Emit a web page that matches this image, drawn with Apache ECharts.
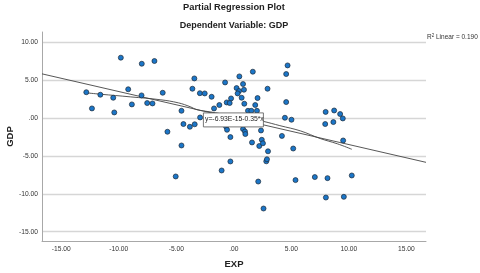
<!DOCTYPE html>
<html><head><meta charset="utf-8">
<script src="https://cdn.jsdelivr.net/npm/echarts@6/dist/echarts.min.js"></script>
<style>html,body{margin:0;padding:0;background:#fff}#c{width:480px;height:273px}</style>
</head><body><div id="c"></div>
<script>
// Partial regression residuals: [EXP residual, GDP residual]
var expResid = [-9.82,-8.00,-6.90,-3.43,-3.60,-2.95,-12.82,-11.60,-10.48,-9.18,-8.02,-6.18,-12.33,-10.39,-8.86,-7.53,-7.07,-4.55,-2.93,-5.77,-4.38,-3.82,-3.40,-4.55,4.67,4.55,0.48,1.65,-0.76,0.80,-2.53,0.24,0.88,0.45,0.33,2.93,-1.93,-0.24,0.68,-0.62,-0.36,-1.26,-1.72,0.91,2.06,1.86,4.55,1.23,1.52,2.01,-0.68,-0.59,0.80,0.97,1.00,2.12,2.36,-0.30,1.58,2.43,2.21,2.53,2.97,4.44,5.01,4.18,5.16,7.98,8.72,9.24,9.47,7.94,8.65,9.50,-0.30,-1.06,2.82,2.88,2.12,5.36,7.04,8.14,8.00,2.58,10.25,9.56,-5.05];
var gdpResid = [7.97,7.17,7.53,5.23,3.87,3.28,3.41,3.08,2.68,3.80,2.99,3.34,1.27,0.74,1.80,1.98,1.93,0.96,0.08,-1.81,-0.79,-1.15,-0.82,-3.62,6.95,5.81,5.50,6.12,4.70,4.49,3.25,3.96,3.74,3.57,3.25,3.87,2.81,2.59,2.68,2.06,1.98,1.72,1.27,1.89,2.64,1.72,2.11,0.96,0.96,0.96,-1.11,-1.55,-1.45,-1.77,-2.11,-0.40,-1.64,-2.51,-3.22,-2.87,-3.69,-3.33,-4.39,0.04,-0.22,-2.36,-4.02,0.81,1.00,0.53,-0.05,-0.79,-0.53,-2.96,-5.73,-6.92,-5.71,-5.44,-8.38,-8.19,-7.79,-7.93,-10.49,-11.94,-7.58,-10.40,-7.71];
// Smooth (loess-like) fit line
var smoothX = [-12.82,-11.6,-9.0,-6.4,-4.8,-3.8,-3.2,-2.0,-0.5,1.0,2.0,2.6,4.0,5.8,7.5,9.0,10.25];
var smoothY = [3.33,3.15,2.8,2.42,2.0,1.5,1.1,0.8,0.4,0.0,-0.3,-0.45,-1.0,-1.7,-2.7,-3.4,-4.12];
// Linear fit
var fitIntercept = -6.93e-15;
var fitSlope = -0.35;
var rSquared = '0.190';
var xTicks = [-15,-10,-5,0,5,10,15];
var yTicks = [-15,-10,-5,0,5,10];

var xMin = -16.67, xMax = 16.7, yMin = -16.23, yMax = 11.36;
var pts = expResid.map(function(x,i){return [x, gdpResid[i]];});
var smooth = smoothX.map(function(x,i){return [x, smoothY[i]];});
var fitLine = [[xMin, fitIntercept + fitSlope*xMin],[xMax, fitIntercept + fitSlope*xMax]];
function fmt(v){ return v === 0 ? '.00' : v.toFixed(2); }

var chart = echarts.init(document.getElementById('c'), null, {renderer:'canvas'});
var F = '"Liberation Sans", Arial, sans-serif';
chart.setOption({
  animation:false,
  backgroundColor:'#fff',
  title:[
    {text:'Partial Regression Plot', left:234, top:3, textAlign:'center', padding:0,
     textStyle:{fontFamily:F, fontSize:9.3, fontWeight:'bold', color:'#222'}},
    {text:'Dependent Variable: GDP', left:234, top:21, textAlign:'center', padding:0,
     textStyle:{fontFamily:F, fontSize:9, fontWeight:'bold', color:'#222'}}
  ],
  grid:{left:42, right:54, top:32, bottom:32, containLabel:false, outerBoundsMode:'none'},
  xAxis:{type:'value', min:xMin, max:xMax,
    name:'EXP', nameLocation:'middle', nameGap:18,
    nameTextStyle:{fontFamily:F, fontSize:9.5, fontWeight:'bold', color:'#222'},
    axisLine:{show:true, onZero:false, lineStyle:{color:'#a8a8a8', width:1}},
    axisTick:{show:false, customValues:xTicks},
    axisLabel:{customValues:xTicks, formatter:fmt, fontFamily:F, fontSize:6.7, color:'#333', margin:5},
    splitLine:{show:false}},
  yAxis:{type:'value', min:yMin, max:yMax,
    name:'GDP', nameLocation:'middle', nameGap:27, nameRotate:90, nameMoveOverlap:false,
    nameTextStyle:{fontFamily:F, fontSize:9.5, fontWeight:'bold', color:'#222'},
    axisLine:{show:true, onZero:false, lineStyle:{color:'#a8a8a8', width:1}},
    axisTick:{show:false, customValues:yTicks},
    axisLabel:{customValues:yTicks, formatter:fmt, fontFamily:F, fontSize:6.7, color:'#333', margin:4},
    splitLine:{show:true, lineStyle:{color:'#d6d6d6', width:1.4}}},
  series:[
    {type:'line', data:fitLine, symbol:'none', silent:true,
     lineStyle:{color:'#444', width:0.9}, z:3},
    {type:'line', data:smooth, symbol:'none', smooth:0.4, silent:true,
     lineStyle:{color:'#444', width:0.9}, z:3},
    {type:'scatter', data:pts, symbolSize:5,
     itemStyle:{color:'#1b76c8', borderColor:'#1e2a36', borderWidth:0.7, opacity:1}, z:4}
  ],
  graphic:[
    {type:'rect', left:203, top:112.5, z:100, shape:{width:60,height:14},
     style:{fill:'#fff', stroke:'#555', lineWidth:0.8}},
    {type:'text', left:205, top:116, z:101,
     style:{text:'y=-6.93E-15-0.35*x', fontFamily:F, fontSize:6.8, fill:'#222'}},
    {type:'text', left:427, top:33, z:100, style:{
      text:'{r|R}{s|2}{r| Linear = ' + rSquared + '}',
      rich:{r:{fontFamily:F, fontSize:6.5, fill:'#333'}, s:{fontFamily:F, fontSize:4.5, fill:'#333', verticalAlign:'top', padding:[0,0,4,0]}}
    }}
  ]
});
</script></body></html>
